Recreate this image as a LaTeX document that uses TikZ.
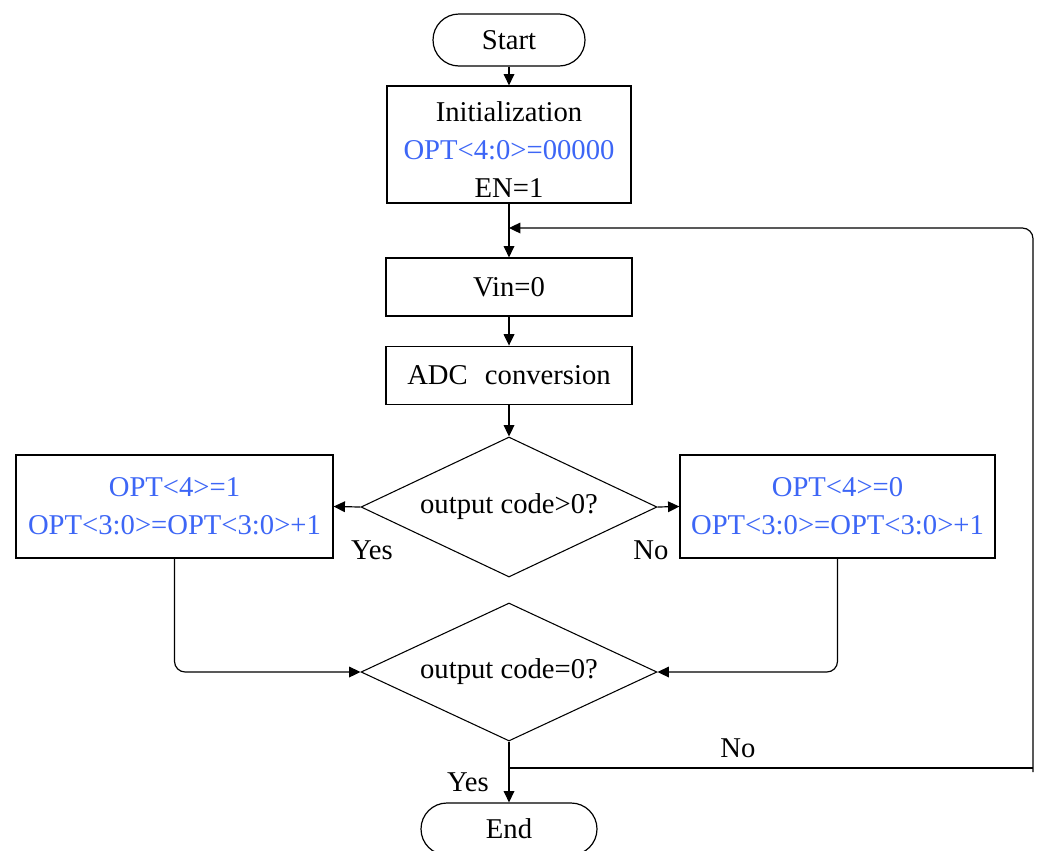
\documentclass[tikz,border=0pt]{standalone}
\usepackage{fontspec}
\setmainfont{Liberation Serif}
\usetikzlibrary{arrows.meta,shapes.geometric}
\definecolor{optblue}{RGB}{61,102,246}
\newcommand\fcfont{\fontsize{21.5}{28.5}\selectfont}
\begin{document}
\begin{tikzpicture}[x=0.75pt,y=-0.75pt,
  box/.style={draw, line width=0.9pt, inner sep=0pt, align=center, font=\fcfont},
  term/.style={box, rounded corners=19.5pt},
  dec/.style={diamond, draw, line width=0.8pt, inner sep=0pt},
  arr/.style={-{Triangle[length=8.5pt,width=8pt]}, line width=0.9pt},
  ln/.style={line width=0.9pt},
  lbl/.style={font=\fcfont, inner sep=0pt}]
\useasboundingbox (0,0) rectangle (1038,850);
\fill[white] (0,0) rectangle (1038,850);
% nodes
\node[term, minimum width=114pt, minimum height=39pt] (start) at (509,40) {Start};
\node[box, minimum width=183pt, minimum height=87.75pt] (init) at (509,144.5)
  {\rule{0pt}{22pt}Initialization\\\textcolor{optblue}{OPT<4:0>=00000}\\EN=1};
\node[box, minimum width=184.5pt, minimum height=43.5pt] (vin) at (509,287) {Vin=0};
\node[box, minimum width=184.5pt, minimum height=44pt] (adc) at (509,375.5) {ADC\hspace{0.6em}conversion};
\node[dec, minimum width=222pt, minimum height=105pt] (d1) at (509,507) {};
\node[lbl] (d1t) at (d1.center) {output code>0?};
\node[box, minimum width=237.75pt, minimum height=77.25pt, text=optblue] (L) at (174.5,506.5)
  {OPT<4>=1\\OPT<3:0>=OPT<3:0>+1};
\node[box, minimum width=236.25pt, minimum height=77.25pt, text=optblue] (R) at (837.5,506.5)
  {OPT<4>=0\\OPT<3:0>=OPT<3:0>+1};
\node[dec, minimum width=222pt, minimum height=103.5pt] (d2) at (509,672) {};
\node[lbl] (d2t) at (d2.center) {output code=0?};
\node[term, minimum width=132pt, minimum height=39pt] (end) at (509,829) {End};
% labels
\node[lbl] (yes1) at (372,550) {Yes};
\node[lbl] (no1) at (651,550) {No};
\node[lbl] (no2) at (738,748) {No};
\node[lbl] (yes2) at (468,782) {Yes};
% coordinates
\coordinate (m1) at (509,228);
\coordinate (j) at (509,768);
\coordinate (br) at (1033,768);
\coordinate (brx) at (1033,772);
\coordinate (tr) at (1033,228);
% connectors
\draw[arr] (start) -- (init);
\draw[arr] (init) -- (vin);
\draw[arr] (vin) -- (adc);
\draw[arr] (adc) -- (d1.north);
\draw[arr] (d1.west) -- (L.east);
\draw[arr] (d1.east) -- (R.west);
\draw[arr, rounded corners=8pt] (L.south) |- (d2.west);
\draw[arr, rounded corners=8pt] (R.south) |- (d2.east);
\draw[arr] (d2.south) -- (end.north);
\draw[ln] (j) -- (br);
\draw[arr, rounded corners=8pt] (brx) -- (tr) -- (m1);
\end{tikzpicture}
\end{document}
